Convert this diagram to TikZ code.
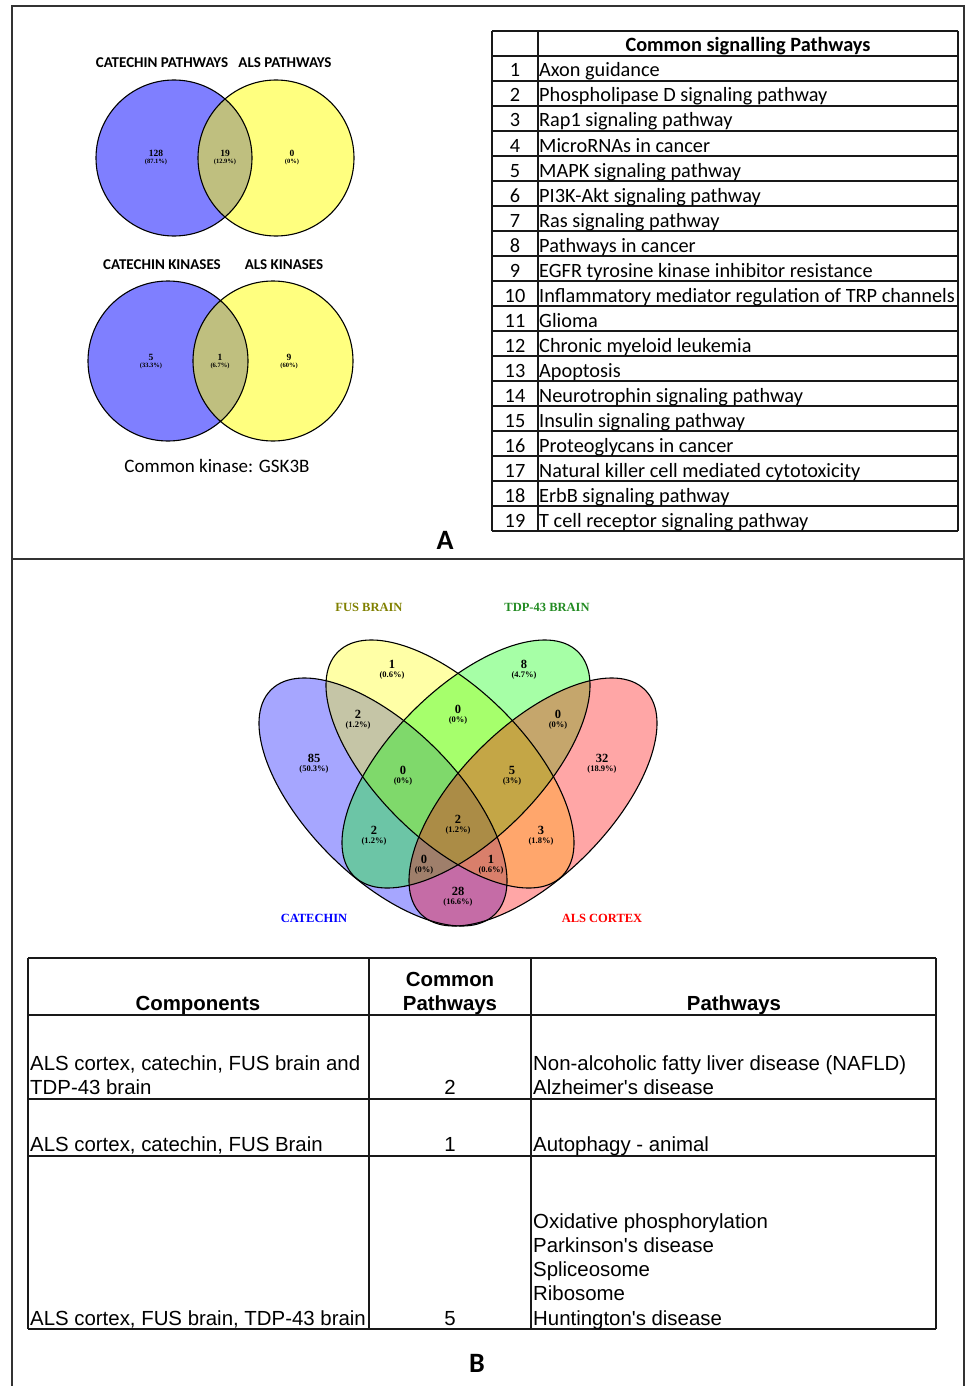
\documentclass[tikz,border=0pt]{standalone}
\usepackage{fontspec}
\usepackage{tikz}
\usetikzlibrary{positioning}
\newfontfamily\calfont{Carlito}
\newfontfamily\arialfont{Liberation Sans}
\newfontfamily\timesfont{Liberation Serif}
\definecolor{VBlue}{HTML}{0000FF}
\definecolor{VYellow}{HTML}{FFFF00}
\definecolor{VGreen}{HTML}{00FF00}
\definecolor{VRed}{HTML}{FF0000}
\definecolor{FusCol}{HTML}{808000}
\definecolor{TdpCol}{HTML}{228B22}

\begin{document}
\begin{tikzpicture}[x=1pt,y=-1pt,
    rule/.style={line width=1.4pt,black!80},
    tabline/.style={line width=1.7pt,black!90},
    vline/.style={line width=1.1pt},
    vnum/.style={inner sep=0pt,font=\timesfont\bfseries\fontsize{9.5}{10}\selectfont},
    vpct/.style={inner sep=0pt,font=\timesfont\bfseries\fontsize{6.5}{7}\selectfont},
    qnum/.style={inner sep=0pt,font=\timesfont\bfseries\fontsize{12.5}{13}\selectfont},
    qpct/.style={inner sep=0pt,font=\timesfont\bfseries\fontsize{8.5}{9}\selectfont},
    vtitle/.style={inner sep=0pt,font=\calfont\bfseries\fontsize{15}{16}\selectfont},
    celltxt/.style={anchor=base west,inner sep=0pt,font=\calfont\fontsize{20.3}{24}\selectfont},
    cellnum/.style={anchor=base,inner sep=0pt,font=\calfont\fontsize{20.3}{24}\selectfont},
    btxt/.style={anchor=base west,inner sep=0pt,font=\arialfont\fontsize{20.4}{24}\selectfont},
    bnum/.style={anchor=base,inner sep=0pt,font=\arialfont\fontsize{20.4}{24}\selectfont},
    bhead/.style={anchor=base,inner sep=0pt,font=\arialfont\bfseries\fontsize{20.4}{24}\selectfont},
    panel/.style={inner sep=0pt,font=\calfont\bfseries\fontsize{28}{30}\selectfont}]
  \useasboundingbox (0,0) rectangle (965,1386);

  % frame of the two panels
  \draw[rule] (12,1386) -- (12,6) -- (964,6) -- (964,1386);
  \draw[rule] (12,559) -- (964,559);

  % panel A: two-set diagrams
  \fill[VBlue,fill opacity=.5] (174,158) circle[radius=78pt];
  \fill[VYellow,fill opacity=.5] (276,158) circle[radius=78pt];
  \draw[vline] (174,158) circle[radius=78pt] (276,158) circle[radius=78pt];
  \fill[VBlue,fill opacity=.5] (168,361) circle[radius=80pt];
  \fill[VYellow,fill opacity=.5] (273,361) circle[radius=80pt];
  \draw[vline] (168,361) circle[radius=80pt] (273,361) circle[radius=80pt];

  \node[vtitle] (catpath) at (162,63) {CATECHIN PATHWAYS};
  \node[vtitle] (alspath) at (285,63) {ALS PATHWAYS};
  \node[vtitle] (catkin) at (162,265) {CATECHIN KINASES};
  \node[vtitle] (alskin) at (284,265) {ALS KINASES};
  \foreach \nm/\x/\y/\n/\p in {pa/156/153/128/(87.1\%), pb/225/153/19/(12.9\%), pc/292/153/0/(0\%),
      ka/151/357/5/(33.3\%), kb/220/357/1/(6.7\%), kc/289/357/9/(60\%)}{
    \node[vnum] (\nm) at (\x,\y) {\n};
    \node[vpct] (\nm p) at (\x,\y+9) {\p};
  }
  \node[inner sep=0pt,font=\calfont\fontsize{19}{22}\selectfont] (gsk) at (217,466) {Common kinase: GSK3B};
  \node[panel] (labA) at (445,540) {A};

  % panel A: table of common pathways
  \foreach \k in {0,...,20}{\draw[tabline] (492,31+25*\k) -- (958,31+25*\k);}
  \foreach \xx in {492,538,958}{\draw[tabline] (\xx,31) -- (\xx,531);}
  \node[anchor=base,inner sep=0pt,font=\calfont\bfseries\fontsize{20.3}{24}\selectfont] (head) at (748,52) {Common signalling Pathways};
  \foreach \i/\t in {1/Axon guidance, 2/Phospholipase D signaling pathway, 3/Rap1 signaling pathway,
      4/MicroRNAs in cancer, 5/MAPK signaling pathway, 6/PI3K-Akt signaling pathway,
      7/Ras signaling pathway, 8/Pathways in cancer, 9/EGFR tyrosine kinase inhibitor resistance,
      10/Inflammatory mediator regulation of TRP channels, 11/Glioma, 12/Chronic myeloid leukemia,
      13/Apoptosis, 14/Neurotrophin signaling pathway, 15/Insulin signaling pathway,
      16/Proteoglycans in cancer, 17/Natural killer cell mediated cytotoxicity,
      18/ErbB signaling pathway, 19/T cell receptor signaling pathway}{
    \node[cellnum] (no\i) at (515,52+25*\i) {\i};
    \node[celltxt] (path\i) at (539,52+25*\i) {\t};
  }

  % panel B: four-set diagram
  \foreach \cx/\cy/\ang/\col in {383/802/-45/VBlue, 450/764/-45/VYellow, 466/764/45/VGreen, 533/802/45/VRed}{
    \fill[\col,fill opacity=.35,rotate around={\ang:(\cx,\cy)}] (\cx,\cy) ellipse[x radius=158.5pt,y radius=75pt];
  }
  \foreach \cx/\cy/\ang in {383/802/-45, 450/764/-45, 466/764/45, 533/802/45}{
    \draw[vline,rotate around={\ang:(\cx,\cy)}] (\cx,\cy) ellipse[x radius=158.5pt,y radius=75pt];
  }
  \foreach \nm/\x/\y/\n/\p in {qa/392/664/1/(0.6\%), qb/524/664/8/(4.7\%), qc/358/714/2/(1.2\%),
      qd/458/709/0/(0\%), qe/558/714/0/(0\%), qf/314/758/85/(50.3\%), qg/403/770/0/(0\%),
      qh/512/770/5/(3\%), qi/602/758/32/(18.9\%), qj/374/830/2/(1.2\%), qk/458/819/2/(1.2\%),
      ql/541/830/3/(1.8\%), qm/424/859/0/(0\%), qn/491/859/1/(0.6\%), qo/458/891/28/(16.6\%)}{
    \node[qnum] (\nm) at (\x,\y) {\n};
    \node[qpct] (\nm p) at (\x,\y+11) {\p};
  }
  \node[qnum,text=FusCol] (fus) at (369,607) {FUS BRAIN};
  \node[qnum,text=TdpCol] (tdp) at (547,607) {TDP-43 BRAIN};
  \node[qnum,text=VBlue] (cat) at (314,918) {CATECHIN};
  \node[qnum,text=VRed] (als) at (602,918) {ALS CORTEX};

  % panel B: table of components
  \foreach \yy in {958,1015,1099,1156,1329}{\draw[tabline] (28,\yy) -- (936,\yy);}
  \foreach \xx in {28,369,531,936}{\draw[tabline] (\xx,958) -- (\xx,1329);}
  \node[bhead] (hcomp) at (198,1010) {Components};
  \node[bhead] (hcom) at (450,986) {Common};
  \node[bhead] (hcomb) at (450,1010) {Pathways};
  \node[bhead] (hpath) at (734,1010) {Pathways};
  \node[btxt] (ca) at (30,1070) {ALS cortex, catechin, FUS brain and};
  \node[btxt] (cb) at (30,1094) {TDP-43 brain};
  \node[bnum] (na) at (450,1094) {2};
  \node[btxt] (pa1) at (533,1070) {Non-alcoholic fatty liver disease (NAFLD)};
  \node[btxt] (pa2) at (533,1094) {Alzheimer's disease};
  \node[btxt] (cc) at (30,1151) {ALS cortex, catechin, FUS Brain};
  \node[bnum] (nb) at (450,1151) {1};
  \node[btxt] (pb1) at (533,1151) {Autophagy - animal};
  \node[btxt] (cd) at (30,1325) {ALS cortex, FUS brain, TDP-43 brain};
  \node[bnum] (nc) at (450,1325) {5};
  \foreach \j/\t in {0/Oxidative phosphorylation, 1/Parkinson's disease, 2/Spliceosome, 3/Ribosome, 4/Huntington's disease}{
    \node[btxt] (pc\j) at (533,1228+24.25*\j) {\t};
  }
  \node[panel] (labB) at (477,1363) {B};
\end{tikzpicture}
\end{document}
